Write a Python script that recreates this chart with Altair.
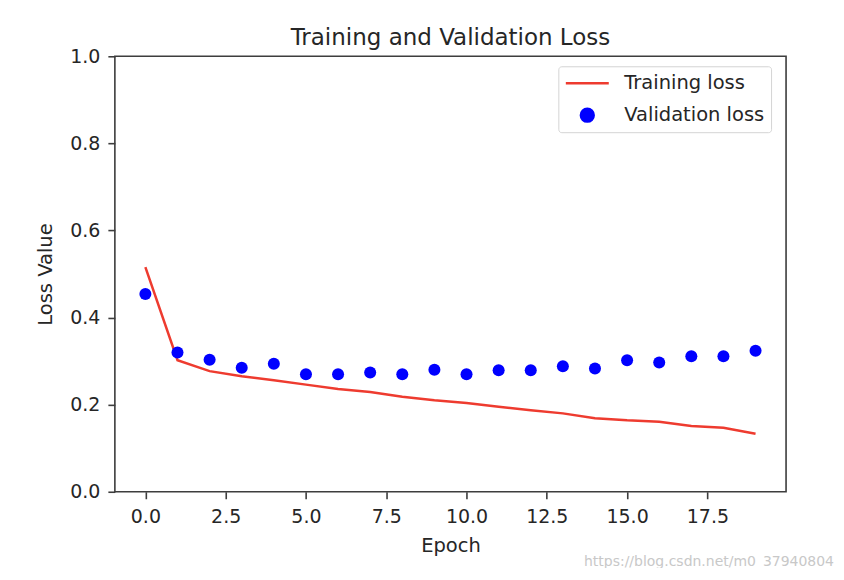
import altair as alt
import pandas as pd

# ---- data ----
epochs = list(range(20))
train_loss = [0.516, 0.302, 0.277, 0.265, 0.256, 0.246, 0.236, 0.229, 0.218, 0.210,
              0.204, 0.195, 0.187, 0.180, 0.169, 0.164, 0.161, 0.151, 0.147, 0.133]
val_loss = [0.454, 0.320, 0.303, 0.285, 0.294, 0.270, 0.270, 0.274, 0.270, 0.280,
            0.270, 0.279, 0.279, 0.288, 0.283, 0.302, 0.297, 0.311, 0.311, 0.324]
series_names = ["Training loss", "Validation loss"]
series_colors = ["#ee3b2f", "#0000ff"]
x_ticks = [0.0, 2.5, 5.0, 7.5, 10.0, 12.5, 15.0, 17.5]
y_ticks = [0.0, 0.2, 0.4, 0.6, 0.8, 1.0]
chart_title = "Training and Validation Loss"
x_title = "Epoch"
y_title = "Loss Value"
watermark = ["https://blog.csdn.net/m0_37940804"]

df = pd.DataFrame({
    "Epoch": epochs + epochs,
    "Loss": train_loss + val_loss,
    "Series": [series_names[0]] * len(epochs) + [series_names[1]] * len(epochs),
})

FONT = "DejaVu Sans"
TXT = "#262626"
SPINE = "#3d3d3d"

is_val = f"datum.value === '{series_names[1]}'"
legend = alt.Legend(
    title=None,
    orient="none",
    legendX=444,
    legendY=10,
    direction="vertical",
    symbolType={"expr": f"{is_val} ? 'circle' : 'stroke'"},
    symbolSize={"expr": f"{is_val} ? 165 : 1849"},
    symbolFillColor={"expr": f"{is_val} ? '{series_colors[1]}' : 'transparent'"},
    symbolStrokeColor={"expr": f"{is_val} ? 'transparent' : '{series_colors[0]}'"},
    symbolStrokeWidth=2.5,
    symbolOpacity=1,
    labelFont=FONT,
    labelFontSize=19.5,
    labelColor=TXT,
    labelOffset=14,
    padding=6,
    rowPadding=10,
    clipHeight=22,
    strokeColor="#d4d4d4",
    fillColor="white",
    cornerRadius=3,
)

color = alt.Color(
    "Series:N",
    scale=alt.Scale(domain=series_names, range=series_colors),
    legend=legend,
)

x = alt.X(
    "Epoch:Q",
    scale=alt.Scale(domain=[-0.95, 19.95], nice=False, zero=False),
    axis=alt.Axis(values=x_ticks, format=".1f", title=x_title, labelPadding=9,
                  titlePadding=10, labelFlush=False),
)
y = alt.Y(
    "Loss:Q",
    scale=alt.Scale(domain=[0, 1], nice=False),
    axis=alt.Axis(values=y_ticks, format=".1f", title=y_title, labelPadding=8,
                  titlePadding=14, labelFlush=False),
)

line = (
    alt.Chart(df)
    .transform_filter(alt.datum.Series == series_names[0])
    .mark_line(strokeWidth=2.5)
    .encode(x=x, y=y, color=color)
)
points = (
    alt.Chart(df)
    .transform_filter(alt.datum.Series == series_names[1])
    .mark_circle(size=145, opacity=1)
    .encode(x=x, y=y, color=color)
)
wm = (
    alt.Chart(pd.DataFrame({"t": watermark}))
    .mark_text(align="right", baseline="middle", fontSize=14, font=FONT, color="#c8c8c8")
    .encode(text="t:N", x=alt.value(720), y=alt.value(506))
)

chart = (
    alt.layer(line, points, wm)
    .properties(
        width=672,
        height=436,
        title=alt.TitleParams(chart_title, font=FONT, fontSize=23, fontWeight="normal",
                              color=TXT, offset=-3, anchor="middle"),
        autosize=alt.AutoSizeParams(type="none"),
        padding={"left": 107, "top": 48, "right": 50, "bottom": 76},
    )
    .configure_view(stroke=SPINE, strokeWidth=1.6)
    .configure_axis(
        domain=False,
        grid=False,
        tickSize=7,
        tickColor=SPINE,
        tickWidth=1.6,
        labelFont=FONT,
        labelFontSize=19,
        labelColor=TXT,
        titleFont=FONT,
        titleFontSize=19.5,
        titleFontWeight="normal",
        titleColor=TXT,
    )
)

chart.save("out.html", embed_options={"renderer": "svg", "actions": False})
